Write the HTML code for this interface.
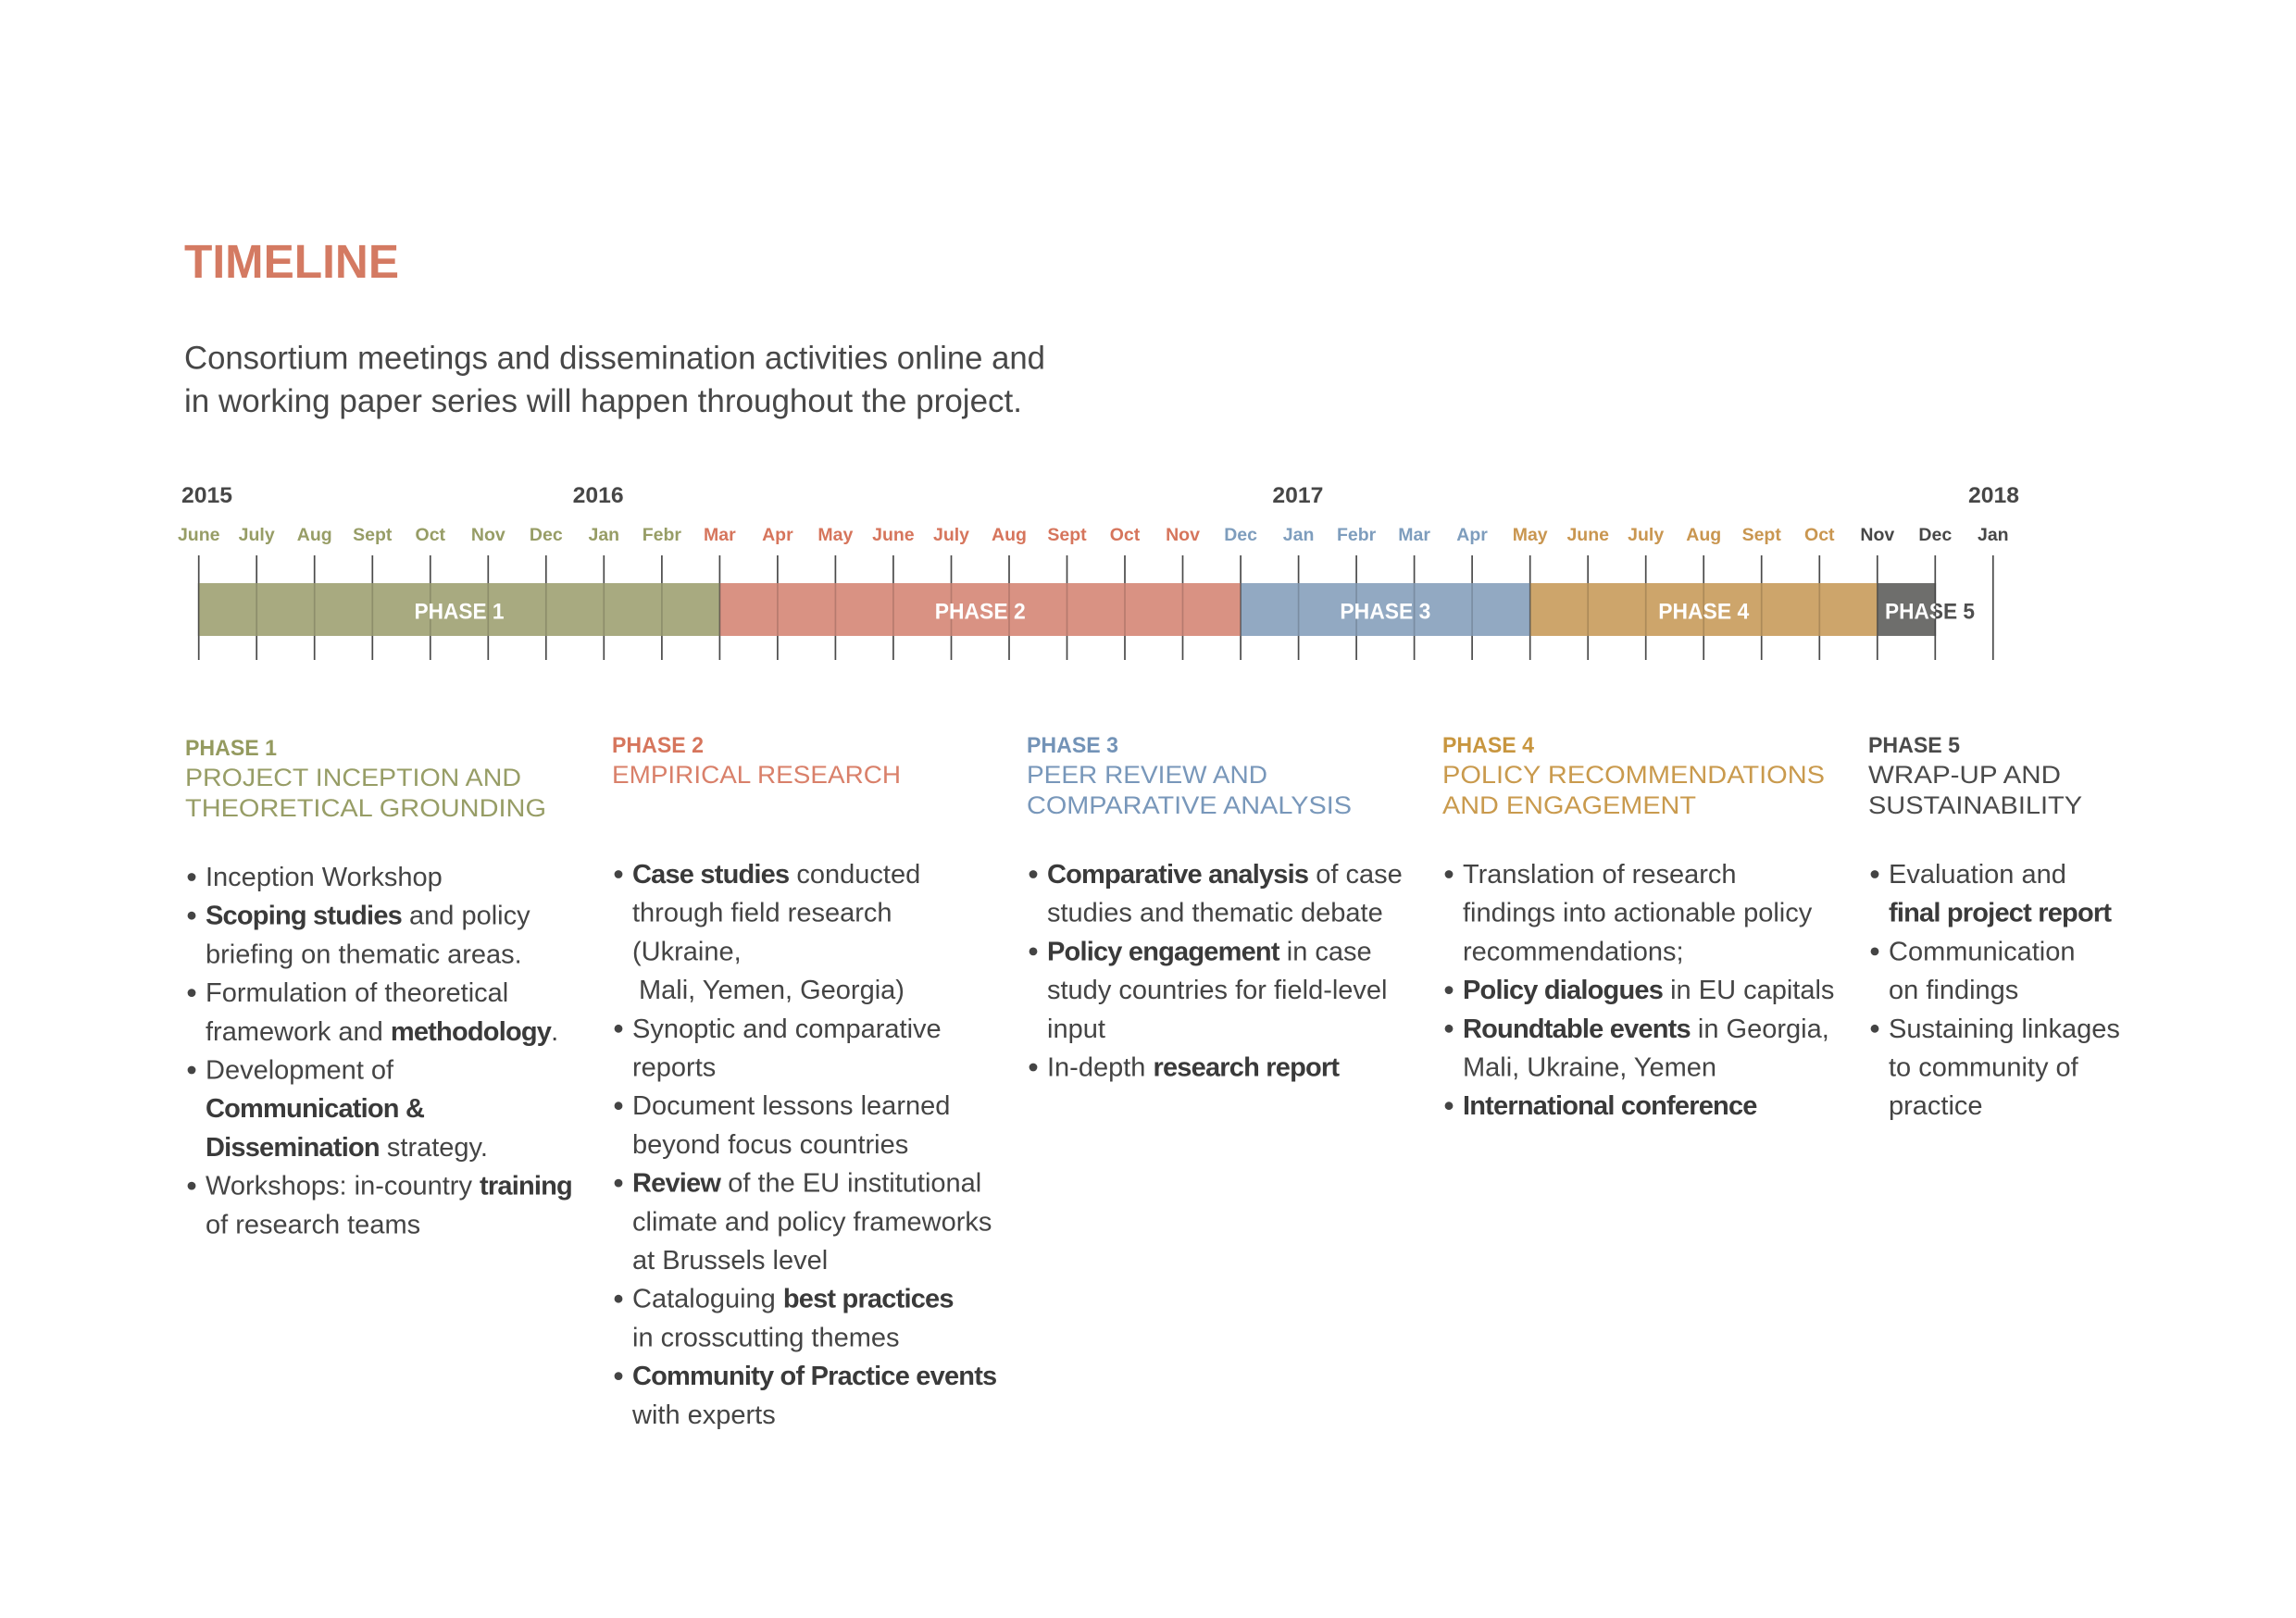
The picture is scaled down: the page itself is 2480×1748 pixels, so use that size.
<!DOCTYPE html>
<html>
<head>
<meta charset="utf-8">
<style>
html,body{margin:0;padding:0;background:#ffffff;}
svg{display:block;}
text{font-family:"Liberation Sans", Arial, sans-serif;}
.b{font-weight:bold;}
.body{font-size:29px;fill:#444444;}
.body .b{fill:#3a3a3a;letter-spacing:-0.8px;}
.mon{font-size:19.5px;font-weight:bold;text-anchor:middle;}
.yr{font-size:24px;font-weight:bold;fill:#474747;}
.hd{font-size:24px;font-weight:bold;}
.tt{font-size:27px;}
.bl{font-size:24px;font-weight:bold;fill:#ffffff;}
</style>
</head>
<body>
<svg width="2480" height="1748" viewBox="0 0 2480 1748" xmlns="http://www.w3.org/2000/svg">
<rect x="0" y="0" width="2480" height="1748" fill="#ffffff"/>

<!-- Title -->
<text x="199" y="300" font-size="51" font-weight="bold" fill="#d47a62" textLength="232" lengthAdjust="spacingAndGlyphs">TIMELINE</text>
<text x="199" y="398.5" font-size="35" fill="#474747" textLength="930" lengthAdjust="spacingAndGlyphs">Consortium meetings and dissemination activities online and</text>
<text x="199" y="445" font-size="35" fill="#474747" textLength="905" lengthAdjust="spacingAndGlyphs">in working paper series will happen throughout the project.</text>

<!-- Years -->
<text class="yr" x="196" y="543" textLength="55" lengthAdjust="spacingAndGlyphs">2015</text>
<text class="yr" x="618.6" y="543" textLength="55" lengthAdjust="spacingAndGlyphs">2016</text>
<text class="yr" x="1374.4" y="543" textLength="55" lengthAdjust="spacingAndGlyphs">2017</text>
<text class="yr" x="2126" y="543" textLength="55" lengthAdjust="spacingAndGlyphs">2018</text>

<!-- Month labels -->
<g class="mon">
<text x="214.7" y="584" fill="#979d66">June</text>
<text x="277.2" y="584" fill="#979d66">July</text>
<text x="339.7" y="584" fill="#979d66">Aug</text>
<text x="402.3" y="584" fill="#979d66">Sept</text>
<text x="464.8" y="584" fill="#979d66">Oct</text>
<text x="527.3" y="584" fill="#979d66">Nov</text>
<text x="589.8" y="584" fill="#979d66">Dec</text>
<text x="652.3" y="584" fill="#979d66">Jan</text>
<text x="714.9" y="584" fill="#979d66">Febr</text>
<text x="777.4" y="584" fill="#d6755c">Mar</text>
<text x="839.9" y="584" fill="#d6755c">Apr</text>
<text x="902.4" y="584" fill="#d6755c">May</text>
<text x="964.9" y="584" fill="#d6755c">June</text>
<text x="1027.5" y="584" fill="#d6755c">July</text>
<text x="1090.0" y="584" fill="#d6755c">Aug</text>
<text x="1152.5" y="584" fill="#d6755c">Sept</text>
<text x="1215.0" y="584" fill="#d6755c">Oct</text>
<text x="1277.5" y="584" fill="#d6755c">Nov</text>
<text x="1340.1" y="584" fill="#7e9dbd">Dec</text>
<text x="1402.6" y="584" fill="#7e9dbd">Jan</text>
<text x="1465.1" y="584" fill="#7e9dbd">Febr</text>
<text x="1527.6" y="584" fill="#7e9dbd">Mar</text>
<text x="1590.1" y="584" fill="#7e9dbd">Apr</text>
<text x="1652.7" y="584" fill="#c99650">May</text>
<text x="1715.2" y="584" fill="#c99650">June</text>
<text x="1777.7" y="584" fill="#c99650">July</text>
<text x="1840.2" y="584" fill="#c99650">Aug</text>
<text x="1902.7" y="584" fill="#c99650">Sept</text>
<text x="1965.3" y="584" fill="#c99650">Oct</text>
<text x="2027.8" y="584" fill="#474747">Nov</text>
<text x="2090.3" y="584" fill="#474747">Dec</text>
<text x="2152.8" y="584" fill="#474747">Jan</text>
</g>

<!-- Ticks full height -->
<g stroke="#4a4a4a" stroke-width="1.7">
<line x1="214.7" y1="600" x2="214.7" y2="713"/>
<line x1="277.2" y1="600" x2="277.2" y2="713"/>
<line x1="339.7" y1="600" x2="339.7" y2="713"/>
<line x1="402.3" y1="600" x2="402.3" y2="713"/>
<line x1="464.8" y1="600" x2="464.8" y2="713"/>
<line x1="527.3" y1="600" x2="527.3" y2="713"/>
<line x1="589.8" y1="600" x2="589.8" y2="713"/>
<line x1="652.3" y1="600" x2="652.3" y2="713"/>
<line x1="714.9" y1="600" x2="714.9" y2="713"/>
<line x1="777.4" y1="600" x2="777.4" y2="713"/>
<line x1="839.9" y1="600" x2="839.9" y2="713"/>
<line x1="902.4" y1="600" x2="902.4" y2="713"/>
<line x1="964.9" y1="600" x2="964.9" y2="713"/>
<line x1="1027.5" y1="600" x2="1027.5" y2="713"/>
<line x1="1090.0" y1="600" x2="1090.0" y2="713"/>
<line x1="1152.5" y1="600" x2="1152.5" y2="713"/>
<line x1="1215.0" y1="600" x2="1215.0" y2="713"/>
<line x1="1277.5" y1="600" x2="1277.5" y2="713"/>
<line x1="1340.1" y1="600" x2="1340.1" y2="713"/>
<line x1="1402.6" y1="600" x2="1402.6" y2="713"/>
<line x1="1465.1" y1="600" x2="1465.1" y2="713"/>
<line x1="1527.6" y1="600" x2="1527.6" y2="713"/>
<line x1="1590.1" y1="600" x2="1590.1" y2="713"/>
<line x1="1652.7" y1="600" x2="1652.7" y2="713"/>
<line x1="1715.2" y1="600" x2="1715.2" y2="713"/>
<line x1="1777.7" y1="600" x2="1777.7" y2="713"/>
<line x1="1840.2" y1="600" x2="1840.2" y2="713"/>
<line x1="1902.7" y1="600" x2="1902.7" y2="713"/>
<line x1="1965.3" y1="600" x2="1965.3" y2="713"/>
<line x1="2027.8" y1="600" x2="2027.8" y2="713"/>
<line x1="2090.3" y1="600" x2="2090.3" y2="713"/>
<line x1="2152.8" y1="600" x2="2152.8" y2="713"/>
</g>

<!-- Bars -->
<rect x="214.7" y="630" width="562.7" height="57" fill="#a8aa80"/>
<rect x="777.4" y="630" width="562.7" height="57" fill="#d99283"/>
<rect x="1340.1" y="630" width="312.6" height="57" fill="#92a9c2"/>
<rect x="1652.7" y="630" width="375.1" height="57" fill="#cda56b"/>
<rect x="2027.8" y="630" width="62.5" height="57" fill="#6e6e6c"/>

<!-- Tick overlays inside bars -->
<g stroke="#000000" stroke-opacity="0.16" stroke-width="1.7">
<line x1="277.2" y1="630" x2="277.2" y2="687"/>
<line x1="339.7" y1="630" x2="339.7" y2="687"/>
<line x1="402.3" y1="630" x2="402.3" y2="687"/>
<line x1="464.8" y1="630" x2="464.8" y2="687"/>
<line x1="527.3" y1="630" x2="527.3" y2="687"/>
<line x1="589.8" y1="630" x2="589.8" y2="687"/>
<line x1="652.3" y1="630" x2="652.3" y2="687"/>
<line x1="714.9" y1="630" x2="714.9" y2="687"/>
<line x1="839.9" y1="630" x2="839.9" y2="687"/>
<line x1="902.4" y1="630" x2="902.4" y2="687"/>
<line x1="964.9" y1="630" x2="964.9" y2="687"/>
<line x1="1027.5" y1="630" x2="1027.5" y2="687"/>
<line x1="1090.0" y1="630" x2="1090.0" y2="687"/>
<line x1="1152.5" y1="630" x2="1152.5" y2="687"/>
<line x1="1215.0" y1="630" x2="1215.0" y2="687"/>
<line x1="1277.5" y1="630" x2="1277.5" y2="687"/>
<line x1="1402.6" y1="630" x2="1402.6" y2="687"/>
<line x1="1465.1" y1="630" x2="1465.1" y2="687"/>
<line x1="1527.6" y1="630" x2="1527.6" y2="687"/>
<line x1="1590.1" y1="630" x2="1590.1" y2="687"/>
<line x1="1715.2" y1="630" x2="1715.2" y2="687"/>
<line x1="1777.7" y1="630" x2="1777.7" y2="687"/>
<line x1="1840.2" y1="630" x2="1840.2" y2="687"/>
<line x1="1902.7" y1="630" x2="1902.7" y2="687"/>
<line x1="1965.3" y1="630" x2="1965.3" y2="687"/>
</g>
<g stroke="#3a3a3a" stroke-opacity="0.6" stroke-width="1.7">
<line x1="214.7" y1="630" x2="214.7" y2="687"/>
<line x1="777.4" y1="630" x2="777.4" y2="687"/>
<line x1="1340.1" y1="630" x2="1340.1" y2="687"/>
<line x1="1652.7" y1="630" x2="1652.7" y2="687"/>
<line x1="2027.8" y1="630" x2="2027.8" y2="687"/>
<line x1="2090.3" y1="630" x2="2090.3" y2="687"/>
</g>

<!-- Bar labels -->
<text class="bl" x="496" y="668.5" text-anchor="middle" textLength="97" lengthAdjust="spacingAndGlyphs">PHASE 1</text>
<text class="bl" x="1058.7" y="668.5" text-anchor="middle" textLength="98" lengthAdjust="spacingAndGlyphs">PHASE 2</text>
<text class="bl" x="1496.4" y="668.5" text-anchor="middle" textLength="98" lengthAdjust="spacingAndGlyphs">PHASE 3</text>
<text class="bl" x="1840.2" y="668.5" text-anchor="middle" textLength="98" lengthAdjust="spacingAndGlyphs">PHASE 4</text>
<defs>
<clipPath id="p5clip"><rect x="2027.8" y="630" width="62.5" height="57"/></clipPath>
</defs>
<text x="2036" y="668.5" font-size="24" font-weight="bold" fill="#4f4f4f" textLength="97" lengthAdjust="spacingAndGlyphs">PHASE 5</text>
<text x="2036" y="668.5" font-size="24" font-weight="bold" fill="#ffffff" textLength="97" lengthAdjust="spacingAndGlyphs" clip-path="url(#p5clip)">PHASE 5</text>

<!-- PHASE 1 column -->
<g>
<text class="hd" x="200" y="816" fill="#949a5f" textLength="99" lengthAdjust="spacingAndGlyphs">PHASE 1</text>
<text class="tt" x="200" y="849" fill="#979d66" textLength="363" lengthAdjust="spacingAndGlyphs">PROJECT INCEPTION AND</text>
<text class="tt" x="200" y="882" fill="#979d66" textLength="390" lengthAdjust="spacingAndGlyphs">THEORETICAL GROUNDING</text>
<g fill="#444444">
<circle cx="207" cy="947.5" r="4.4"/>
<circle cx="207" cy="989.2" r="4.4"/>
<circle cx="207" cy="1072.6" r="4.4"/>
<circle cx="207" cy="1156" r="4.4"/>
<circle cx="207" cy="1281.1" r="4.4"/>
</g>
<text class="body" x="222" y="957">Inception Workshop</text>
<text class="body" x="222" y="998.7"><tspan class="b">Scoping studies</tspan> and policy</text>
<text class="body" x="222" y="1040.4">briefing on thematic areas.</text>
<text class="body" x="222" y="1082.1">Formulation of theoretical</text>
<text class="body" x="222" y="1123.8">framework and <tspan class="b">methodology</tspan>.</text>
<text class="body" x="222" y="1165.5">Development of</text>
<text class="body" x="222" y="1207.2"><tspan class="b">Communication &amp;</tspan></text>
<text class="body" x="222" y="1248.9"><tspan class="b">Dissemination</tspan> strategy.</text>
<text class="body" x="222" y="1290.6">Workshops: in-country <tspan class="b">training</tspan></text>
<text class="body" x="222" y="1332.3">of research teams</text>
</g>

<!-- PHASE 2 column -->
<g>
<text class="hd" x="661" y="813" fill="#d6755c" textLength="99" lengthAdjust="spacingAndGlyphs">PHASE 2</text>
<text class="tt" x="661" y="846" fill="#d9806a" textLength="312" lengthAdjust="spacingAndGlyphs">EMPIRICAL RESEARCH</text>
<g fill="#444444">
<circle cx="668" cy="944.5" r="4.4"/>
<circle cx="668" cy="1111.3" r="4.4"/>
<circle cx="668" cy="1194.7" r="4.4"/>
<circle cx="668" cy="1278.1" r="4.4"/>
<circle cx="668" cy="1403.2" r="4.4"/>
<circle cx="668" cy="1486.6" r="4.4"/>
</g>
<text class="body" x="683" y="954"><tspan class="b">Case studies</tspan> conducted</text>
<text class="body" x="683" y="995.7">through field research</text>
<text class="body" x="683" y="1037.4">(Ukraine,</text>
<text class="body" x="690" y="1079.1">Mali, Yemen, Georgia)</text>
<text class="body" x="683" y="1120.8">Synoptic and comparative</text>
<text class="body" x="683" y="1162.5">reports</text>
<text class="body" x="683" y="1204.2">Document lessons learned</text>
<text class="body" x="683" y="1245.9">beyond focus countries</text>
<text class="body" x="683" y="1287.6"><tspan class="b">Review</tspan> of the EU institutional</text>
<text class="body" x="683" y="1329.3">climate and policy frameworks</text>
<text class="body" x="683" y="1371">at Brussels level</text>
<text class="body" x="683" y="1412.7">Cataloguing <tspan class="b">best practices</tspan></text>
<text class="body" x="683" y="1454.4">in crosscutting themes</text>
<text class="body" x="683" y="1496.1"><tspan class="b">Community of Practice events</tspan></text>
<text class="body" x="683" y="1537.8">with experts</text>
</g>

<!-- PHASE 3 column -->
<g>
<text class="hd" x="1109" y="813" fill="#7393b7" textLength="99" lengthAdjust="spacingAndGlyphs">PHASE 3</text>
<text class="tt" x="1109" y="846" fill="#7897ba" textLength="260" lengthAdjust="spacingAndGlyphs">PEER REVIEW AND</text>
<text class="tt" x="1109" y="879" fill="#7897ba" textLength="351" lengthAdjust="spacingAndGlyphs">COMPARATIVE ANALYSIS</text>
<g fill="#444444">
<circle cx="1116" cy="944.5" r="4.4"/>
<circle cx="1116" cy="1027.9" r="4.4"/>
<circle cx="1116" cy="1153" r="4.4"/>
</g>
<text class="body" x="1131" y="954"><tspan class="b">Comparative analysis</tspan> of case</text>
<text class="body" x="1131" y="995.7">studies and thematic debate</text>
<text class="body" x="1131" y="1037.4"><tspan class="b">Policy engagement</tspan> in case</text>
<text class="body" x="1131" y="1079.1">study countries for field-level</text>
<text class="body" x="1131" y="1120.8">input</text>
<text class="body" x="1131" y="1162.5">In-depth <tspan class="b">research report</tspan></text>
</g>

<!-- PHASE 4 column -->
<g>
<text class="hd" x="1558" y="813" fill="#c8963f" textLength="99" lengthAdjust="spacingAndGlyphs">PHASE 4</text>
<text class="tt" x="1558" y="846" fill="#c99a4d" textLength="413" lengthAdjust="spacingAndGlyphs">POLICY RECOMMENDATIONS</text>
<text class="tt" x="1558" y="879" fill="#c99a4d" textLength="274" lengthAdjust="spacingAndGlyphs">AND ENGAGEMENT</text>
<g fill="#444444">
<circle cx="1565" cy="944.5" r="4.4"/>
<circle cx="1565" cy="1069.6" r="4.4"/>
<circle cx="1565" cy="1111.3" r="4.4"/>
<circle cx="1565" cy="1194.7" r="4.4"/>
</g>
<text class="body" x="1580" y="954">Translation of research</text>
<text class="body" x="1580" y="995.7">findings into actionable policy</text>
<text class="body" x="1580" y="1037.4">recommendations;</text>
<text class="body" x="1580" y="1079.1"><tspan class="b">Policy dialogues</tspan> in EU capitals</text>
<text class="body" x="1580" y="1120.8"><tspan class="b">Roundtable events</tspan> in Georgia,</text>
<text class="body" x="1580" y="1162.5">Mali, Ukraine, Yemen</text>
<text class="body" x="1580" y="1204.2"><tspan class="b">International conference</tspan></text>
</g>

<!-- PHASE 5 column -->
<g>
<text class="hd" x="2018" y="813" fill="#4a4a4a" textLength="99" lengthAdjust="spacingAndGlyphs">PHASE 5</text>
<text class="tt" x="2018" y="846" fill="#4a4a4a" textLength="208" lengthAdjust="spacingAndGlyphs">WRAP-UP AND</text>
<text class="tt" x="2018" y="879" fill="#4a4a4a" textLength="231" lengthAdjust="spacingAndGlyphs">SUSTAINABILITY</text>
<g fill="#444444">
<circle cx="2025" cy="944.5" r="4.4"/>
<circle cx="2025" cy="1027.9" r="4.4"/>
<circle cx="2025" cy="1111.3" r="4.4"/>
</g>
<text class="body" x="2040" y="954">Evaluation and</text>
<text class="body" x="2040" y="995.7"><tspan class="b">final project report</tspan></text>
<text class="body" x="2040" y="1037.4">Communication</text>
<text class="body" x="2040" y="1079.1">on findings</text>
<text class="body" x="2040" y="1120.8">Sustaining linkages</text>
<text class="body" x="2040" y="1162.5">to community of</text>
<text class="body" x="2040" y="1204.2">practice</text>
</g>
</svg>
</body>
</html>
